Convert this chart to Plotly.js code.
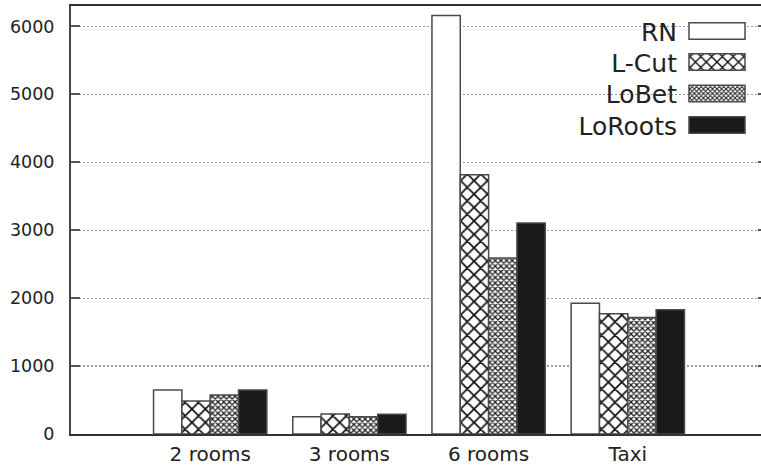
<!DOCTYPE html>
<html>
<head>
<meta charset="utf-8">
<script src="https://cdn.plot.ly/plotly-3.0.1.min.js"></script>
<style>
  html, body { margin: 0; padding: 0; overflow: hidden; background: #fff; }
  #chart { width: 767px; height: 470px; }
</style>
</head>
<body>
<div id="chart"></div>
<script>
// Benchmark instances on the x axis
var categories = ['2 rooms', '3 rooms', '6 rooms', 'Taxi'];

// One series per method
var seriesNames = ['RN', 'L-Cut', 'LoBet', 'LoRoots'];
var rnValues      = [648, 255, 6160, 1926];
var lcutValues    = [486, 295, 3817, 1769];
var lobetValues   = [575, 255, 2590, 1714];
var lorootsValues = [648, 290, 3105, 1828];

var yTickValues = [0, 1000, 2000, 3000, 4000, 5000, 6000];

var FONT = 'DejaVu Sans, Verdana, sans-serif';
var OUTLINE = { color: '#4a4a4a', width: 1.5 };

// Fill style for each series: plain, coarse cross-hatch, fine cross-hatch, solid
var fills = [
  { color: '#ffffff' },
  { color: '#ffffff', pattern: { shape: 'x', size: 9.5, solidity: 0.33, fgcolor: '#111', bgcolor: '#ffffff', fillmode: 'replace' } },
  { color: '#ffffff', pattern: { shape: 'x', size: 4, solidity: 0.55, fgcolor: '#222', bgcolor: '#ffffff', fillmode: 'replace' } },
  { color: '#1a1a1a' }
];

var seriesValues = [rnValues, lcutValues, lobetValues, lorootsValues];

var traces = seriesNames.map(function (name, i) {
  var marker = { color: fills[i].color, line: OUTLINE };
  if (fills[i].pattern) marker.pattern = fills[i].pattern;
  return {
    type: 'bar',
    name: name,
    x: categories,
    y: seriesValues[i],
    marker: marker,
    hoverinfo: 'skip'
  };
});

var layout = {
  width: 767,
  height: 470,
  margin: { l: 71, r: 0, t: 6, b: 36 },
  paper_bgcolor: '#ffffff',
  plot_bgcolor: '#ffffff',
  barmode: 'group',
  bargap: 0.186,
  bargroupgap: 0,
  font: { family: FONT, color: '#222' },
  showlegend: true,
  legend: {
    x: 0.3, y: 0.95, xanchor: 'left', yanchor: 'top',
    bgcolor: 'rgba(0,0,0,0)',
    font: { family: FONT, size: 25, color: '#222' },
    traceorder: 'normal'
  },
  xaxis: {
    type: 'category',
    range: [-1, 4],
    showline: true, linecolor: '#333', linewidth: 2,
    mirror: true,
    ticks: '',
    showgrid: false,
    zeroline: false,
    tickfont: { family: FONT, size: 20, color: '#222' },
    ticklabelstandoff: 1
  },
  yaxis: {
    range: [0, 6300],
    tickvals: yTickValues,
    ticktext: yTickValues.map(String),
    showline: true, linecolor: '#444', linewidth: 2,
    mirror: 'ticks',
    ticks: 'inside', ticklen: 9, tickwidth: 2, tickcolor: '#555',
    showgrid: true, gridcolor: '#9a9a9a', gridwidth: 1.2, griddash: '2px,2px',
    zeroline: false,
    tickfont: { family: FONT, size: 17.5, color: '#222' },
    ticklabelstandoff: 11
  }
};

// Gnuplot-style key: label right-aligned, wide swatch to its right
var KEY_ROW_Y = [31, 62, 93.5, 125];
var KEY_TEXT_RIGHT = 677;
var KEY_SWATCH_CX = 717;

function arrangeKey(gd) {
  var box = gd.getBoundingClientRect();
  var scroll = gd.querySelector('.legend .scrollbox');
  if (scroll) scroll.removeAttribute('clip-path');
  var bg = gd.querySelector('.legend rect.bg');
  if (bg) bg.setAttribute('style', 'fill:none;stroke:none');
  var rows = gd.querySelectorAll('.legend .traces');
  rows.forEach(function (row, i) {
    row.setAttribute('transform', 'translate(0,0)');
    var m = row.getScreenCTM();
    var ox = m.e - box.left;
    var oy = m.f - box.top;
    row.setAttribute('transform', 'translate(0,' + (KEY_ROW_Y[i] - oy) + ')');
    row.querySelectorAll('.legendpoints path').forEach(function (p) {
      p.setAttribute('d', 'M28,8.3H-28V-8.3H28Z');
      p.setAttribute('transform', 'translate(' + (KEY_SWATCH_CX - ox) + ',0)');
    });
    var t = row.querySelector('text.legendtext');
    if (t) {
      t.setAttribute('x', KEY_TEXT_RIGHT - ox);
      t.setAttribute('text-anchor', 'end');
      t.querySelectorAll('tspan').forEach(function (s) {
        if (s.hasAttribute('x')) s.setAttribute('x', KEY_TEXT_RIGHT - ox);
      });
    }
  });
}

Plotly.newPlot('chart', traces, layout, { displayModeBar: false, staticPlot: true })
  .then(arrangeKey);
</script>
</body>
</html>
